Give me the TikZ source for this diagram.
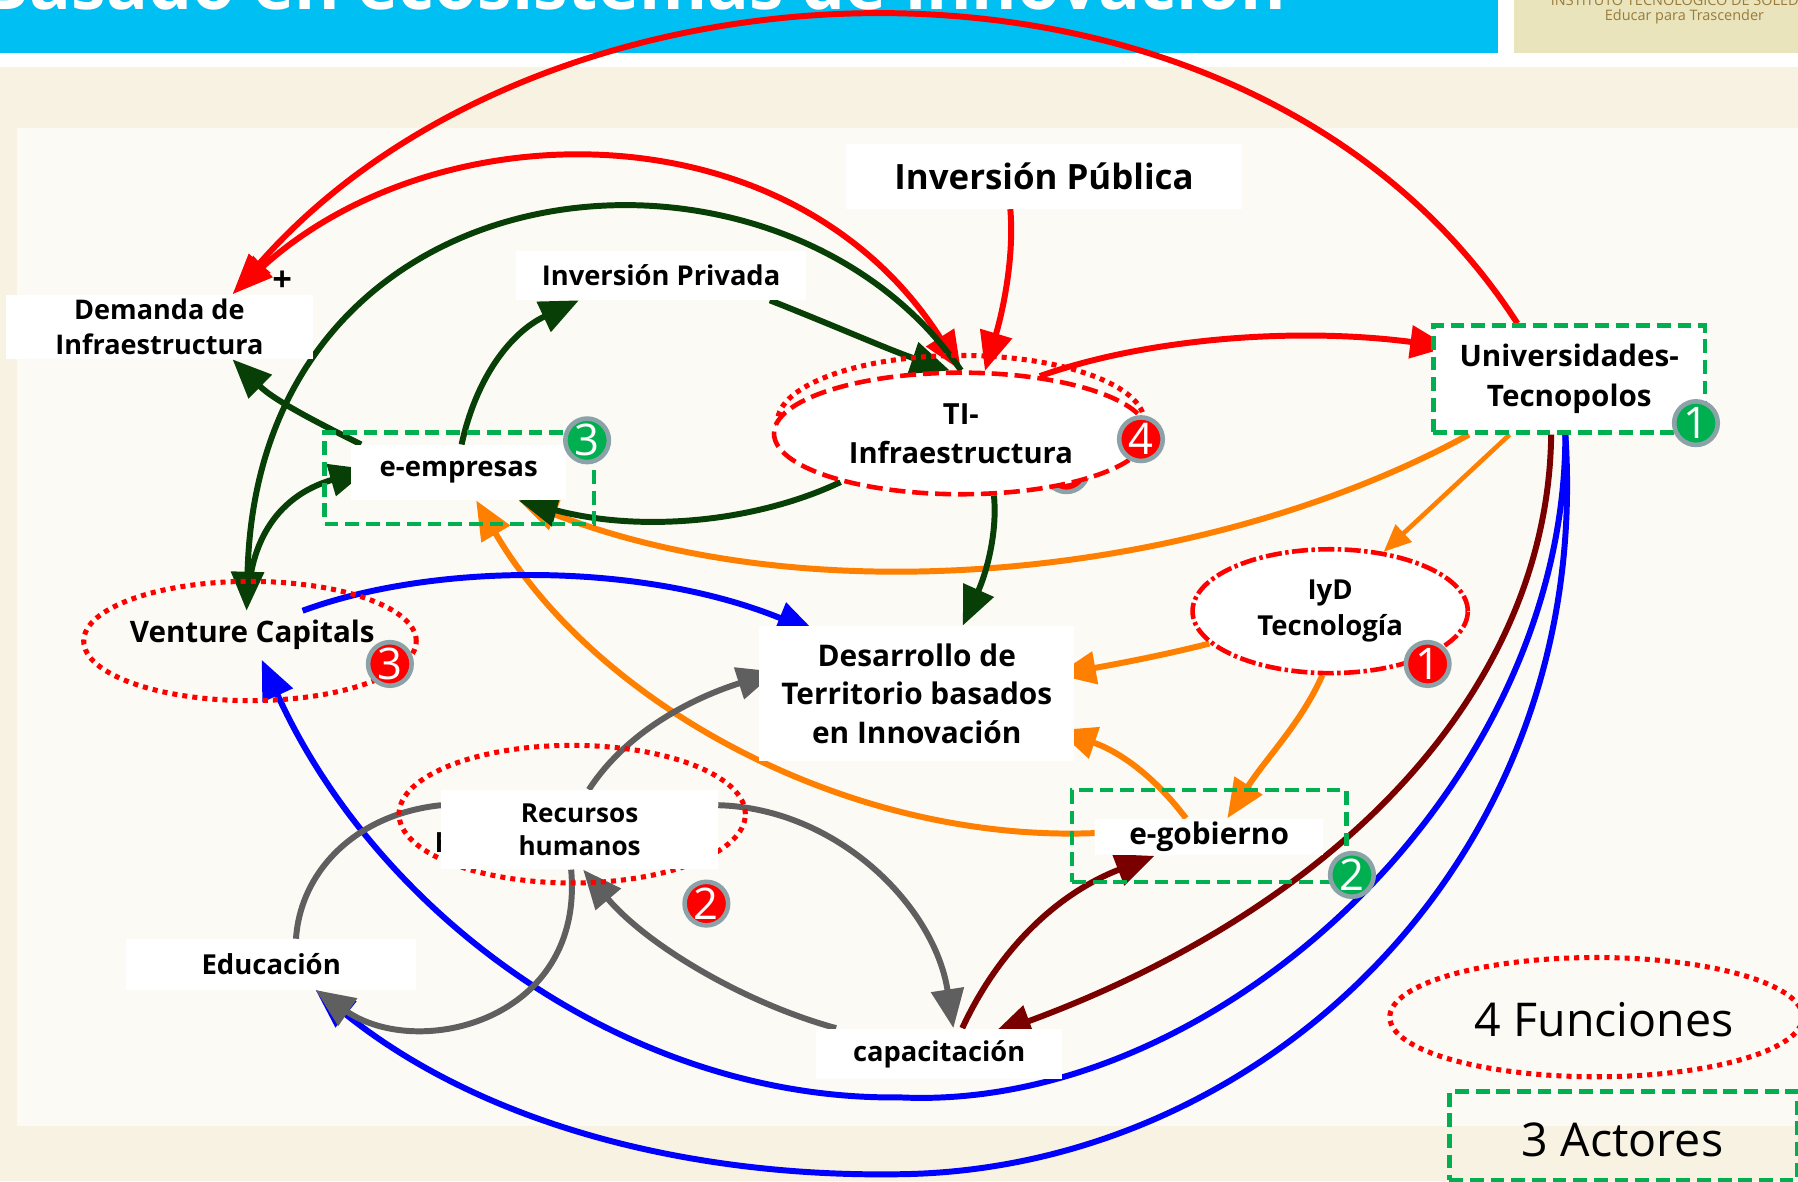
\documentclass[tikz,border=0pt]{standalone}
\usepackage{fontspec}
\setmainfont{Open Sans}
\usetikzlibrary{shapes.geometric, arrows.meta, backgrounds}
\definecolor{titlecyan}{HTML}{00BFF3}
\definecolor{logobeige}{HTML}{E9E4BC}
\definecolor{logotext}{HTML}{9A7B3A}
\definecolor{pagebeige}{HTML}{F7F2E2}
\definecolor{panelwhite}{HTML}{FCFAF4}
\definecolor{actorgreen}{HTML}{00B050}
\definecolor{darkgreen}{HTML}{073F07}
\definecolor{arroworange}{HTML}{FF8000}
\definecolor{darkred}{HTML}{7A0000}
\definecolor{linegrey}{HTML}{5F5F5F}
\definecolor{badgegrey}{HTML}{8BA3A8}
\tikzstyle{whitebox} = [rectangle, fill=white, align=center, inner sep=0pt]
\tikzstyle{actor} = [rectangle, draw=actorgreen, dash pattern=on 6pt off 3pt, line width=2pt, inner sep=0pt]
\tikzstyle{function} = [ellipse, draw=red, dash pattern=on 2.2pt off 2.2pt, line width=2.2pt, inner sep=0pt]
\tikzstyle{mainfunction} = [ellipse, draw=red, fill=white, dash pattern=on 7pt off 3pt, line width=2pt, inner sep=0pt, align=center]
\tikzstyle{badge} = [circle, draw=badgegrey, line width=2pt, minimum size=19pt, inner sep=0pt, text=white, font=\fontsize{19}{19}\selectfont]
\tikzstyle{legend} = [font=\fontsize{20.3}{20}\selectfont]
\tikzstyle{arrowbase} = [line width=2.6pt, -{Triangle[length=17pt,width=14pt]}]
\tikzstyle{undertip} = [shorten >=-8pt]
\tikzstyle{redarrow} = [arrowbase, draw=red]
\tikzstyle{greenarrow} = [arrowbase, draw=darkgreen]
\tikzstyle{orangearrow} = [arrowbase, draw=arroworange]
\tikzstyle{bluearrow} = [arrowbase, draw=blue]
\tikzstyle{maroonarrow} = [arrowbase, draw=darkred]
\tikzstyle{greyarrow} = [arrowbase, draw=linegrey]
\begin{document}
\begin{tikzpicture}[x=0.5pt,y=-0.5pt]
    \useasboundingbox (0,0) rectangle (1568,1030);

    \node (recursosring) [function, minimum width=151pt, minimum height=60pt] at (499,710) {};
    \node (hidden) [font=\fontsize{11.4}{14}\selectfont\bfseries] at (387,735) {h};
    \node (venture) [function, minimum width=145pt, minimum height=52pt] at (218,559) {};
    \node (tiring) [function, minimum width=160pt, minimum height=58pt] at (838,368) {};
    \node (tibadge) [badge, fill=red] at (930,410) {};

    \node (publica) [whitebox, minimum width=172.5pt, minimum height=28pt, font=\fontsize{15.2}{18}\selectfont\bfseries] at (910.5,154) {Inversión Pública};
    \node (demanda) [whitebox, minimum width=134pt, minimum height=28pt, font=\fontsize{11.8}{15.5}\selectfont\bfseries] at (139,285) {Demanda de\\Infraestructura};
    \node (privada) [whitebox, minimum width=126.5pt, minimum height=21.5pt, font=\fontsize{11.9}{15}\selectfont\bfseries] at (576.5,240) {Inversión Privada};
    \node (empresasrect) [actor, minimum width=117.5pt, minimum height=40pt] at (400.5,417) {};
    \node (empresas) [whitebox, minimum width=93.5pt, minimum height=24pt, font=\fontsize{12}{15}\selectfont\bfseries] at (400,412) {e-empresas};
    \node (ti) [mainfunction, minimum width=163pt, minimum height=53pt, font=\fontsize{12.7}{17}\selectfont\bfseries] at (838,378) {TI-\\Infraestructura};
    \node (uni) [actor, fill=white, align=center, minimum width=118.5pt, minimum height=46.5pt, font=\fontsize{12.9}{17.5}\selectfont\bfseries] at (1368.5,330.5) {Universidades-\\Tecnopolos};
    \node (iyd) [mainfunction, dash pattern=on 7pt off 1.5pt on 1.5pt off 1.5pt, minimum width=120pt, minimum height=54pt, font=\fontsize{12}{15.5}\selectfont\bfseries] at (1160,533) {IyD\\Tecnología};
    \node (desarrollo) [whitebox, minimum width=137.5pt, minimum height=59pt, font=\fontsize{13}{16.8}\selectfont\bfseries] at (799.5,605) {Desarrollo de\\Territorio basados\\en Innovación};
    \node (venturetext) [align=center, minimum width=107pt, minimum height=21pt, inner sep=0pt, font=\fontsize{12.9}{15}\selectfont\bfseries] at (220,554) {Venture Capitals};
    \node (recursos) [whitebox, minimum width=120.5pt, minimum height=34.5pt, font=\fontsize{11.4}{14.5}\selectfont\bfseries] at (505.5,723.5) {Recursos\\humanos};
    \node (educacion) [whitebox, minimum width=126.5pt, minimum height=22pt, font=\fontsize{12}{15}\selectfont\bfseries] at (236.5,841) {Educación};
    \node (capacitacion) [whitebox, minimum width=107pt, minimum height=22pt, font=\fontsize{11.9}{15}\selectfont\bfseries] at (819,919) {capacitación};
    \node (gobiernorect) [actor, minimum width=119.5pt, minimum height=40pt] at (1054.5,729) {};
    \node (gobierno) [whitebox, minimum width=99.5pt, minimum height=16pt, font=\fontsize{13}{15}\selectfont\bfseries] at (1054.5,730) {e-gobierno};
    \node (plus) [font=\fontsize{15}{15}\selectfont\bfseries] at (246,245) {+};

    \node (empresasbadge) [badge, fill=actorgreen] at (512,384) {3};
    \node (unibadge) [badge, fill=actorgreen] at (1479,369) {1};
    \node (gobiernobadge) [badge, fill=actorgreen] at (1179,763) {2};
    \node (infrabadge) [badge, fill=red] at (995,383) {4};
    \node (iydbadge) [badge, fill=red] at (1245,579) {1};
    \node (venturebadge) [badge, fill=red] at (340,579) {3};
    \node (recursosbadge) [badge, fill=red] at (616,788) {2};

    \node (funciones) [function, minimum width=180pt, minimum height=52pt] at (1392,887) {};
    \node (funcionestext) [legend] at (1399,889) {4 Funciones};
    \node (actores) [actor, minimum width=151.5pt, minimum height=38.5pt] at (1415.5,990.5) {};
    \node (actorestext) [legend] at (1415,994) {3 Actores};

    \begin{scope}[on background layer]
    \fill [pagebeige] (0,58) rectangle (1568,1030);
    \fill [white] (0,0) rectangle (1568,58);
    \fill [titlecyan] (0,0) rectangle (1306,46);
    \fill [logobeige] (1320,0) rectangle (1568,46);
    \fill [panelwhite] (15,112) rectangle (1568,982);
    \node (title) [anchor=base west, text=white, font=\fontsize{30.3}{30}\selectfont\bfseries] at (-22,8) {Basado en ecosistemas de innovación};
    \node (logoa) [text=logotext, font=\fontsize{6.3}{7}\selectfont] at (1469,-1) {INSTITUTO TECNOLÓGICO DE SOLEDAD};
    \node (logob) [text=logotext, font=\fontsize{6.3}{7}\selectfont] at (1469,15) {Educar para Trascender};

    \draw [redarrow, -{Triangle[length=18pt,width=12pt]}] (uni.133) .. controls (1090,-80) and (480,-60) .. (demanda.24);
    \draw [redarrow, {Triangle[length=17pt,width=14pt]}-{Triangle[length=18pt,width=12pt]}] (ti.north) .. controls (690,90) and (380,95) .. (demanda.24);
    \draw [redarrow] (publica.-136) .. controls (885,230) and (872,280) .. (ti.69);
    \draw [redarrow, undertip] (ti.36) .. controls (1000,295) and (1130,285) .. (uni.166);

    \draw [greenarrow] (ti.north) .. controls (680,92) and (225,130) .. (venturetext.103);
    \draw [greenarrow, undertip] (venture.north) .. controls (225,460) and (250,430) .. (empresas.181);
    \draw [greenarrow] (privada.-13) .. controls (730,285) and (775,305) .. (ti.100);
    \draw [orangearrow] (uni.-151) .. controls (1060,500) and (720,540) .. (empresas.-25);
    \draw [greenarrow] (ti.202) .. controls (660,455) and (560,465) .. (empresas.-25);
    \draw [greenarrow] (ti.-62) .. controls (870,465) and (860,500) .. (desarrollo.56);
    \draw [greenarrow] (empresas.164) .. controls (280,370) and (240,350) .. (demanda.-24);
    \draw [greenarrow] (empresas.84) .. controls (415,330) and (445,290) .. (privada.197);

    \draw [orangearrow, line width=2pt, -{Triangle[length=12pt,width=10pt]}] (uni.-137) -- (iyd.48);
    \draw [orangearrow] (gobierno.178) .. controls (740,735) and (520,615) .. (empresas.-58);
    \draw [orangearrow, undertip] (gobierno.141) .. controls (1005,675) and (975,655) .. (desarrollo.-15);
    \draw [orangearrow, undertip] (iyd.195) .. controls (1020,570) and (985,577) .. (desarrollo.8);
    \draw [orangearrow] (iyd.-97) .. controls (1135,630) and (1105,660) .. (gobierno.46);

    \draw [maroonarrow, undertip] (uni.-108) .. controls (1350,600) and (1170,790) .. (capacitacion.20);
    \draw [maroonarrow] (capacitacion.48) .. controls (870,830) and (920,780) .. (gobierno.199);

    \draw [bluearrow] (uni.-94) .. controls (1365,690) and (1060,970) .. (785,957) .. controls (550,960) and (330,800) .. (venturetext.-69);
    \draw [bluearrow] (uni.-94) .. controls (1390,750) and (1100,1020) .. (785,1024) .. controls (600,1027) and (420,980) .. (educacion.-30);
    \draw [bluearrow, undertip] (venturetext.26) .. controls (380,490) and (560,490) .. (desarrollo.150);

    \draw [greyarrow, undertip] (recursos.77) .. controls (545,640) and (600,610) .. (desarrollo.174);
    \draw [greyarrow, -] (educacion.46) .. controls (262,760) and (310,710) .. (recursos.170);
    \draw [greyarrow] (recursos.258) .. controls (510,890) and (365,925) .. (educacion.-30);
    \draw [greyarrow] (recursos.10) .. controls (730,705) and (815,790) .. (capacitacion.61);
    \draw [greyarrow] (capacitacion.166) .. controls (650,875) and (565,825) .. (recursos.275);
    \end{scope}
\end{tikzpicture}
\end{document}
